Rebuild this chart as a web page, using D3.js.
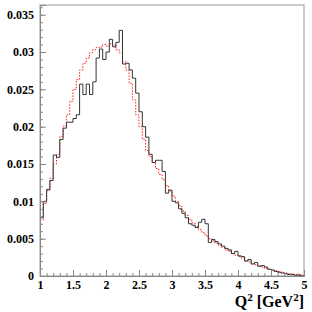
<!DOCTYPE html>
<html>
<head>
<meta charset="utf-8">
<script src="https://cdn.jsdelivr.net/npm/d3@7"></script>
<style>
body { margin: 0; background: #fff; }
svg text { font-family: "Liberation Serif", "Times New Roman", serif; font-weight: bold; }
</style>
</head>
<body>
<div id="chart"></div>
<script>
// histogram range and binning (80 bins of 0.05)
var xMin = 1, xMax = 5, nBins = 80;

// black histogram (data)
var blackValues = [
  0.0078, 0.0100, 0.0116, 0.0128, 0.0162, 0.0159, 0.0183, 0.0198, 0.0206, 0.0206,
  0.0211, 0.0216, 0.0257, 0.0243, 0.0257, 0.0243, 0.0260, 0.0292, 0.0304, 0.0290,
  0.0300, 0.0317, 0.0307, 0.0313, 0.0329, 0.0284, 0.0285, 0.0276, 0.0265, 0.0245,
  0.0220, 0.0200, 0.0186, 0.0163, 0.0152, 0.0155, 0.0155, 0.0140, 0.0111, 0.0115,
  0.0100, 0.0098, 0.0090, 0.0084, 0.0078, 0.0070, 0.0068, 0.0065, 0.0072, 0.0076,
  0.0070, 0.0045, 0.0049, 0.0046, 0.0043, 0.0040, 0.0037, 0.0035, 0.0030, 0.0033,
  0.0027, 0.0026, 0.0020, 0.0022, 0.0016, 0.0018, 0.0013, 0.0014, 0.0012, 0.0009,
  0.0008, 0.0006, 0.0005, 0.0004, 0.0003, 0.0002, 0.0002, 0.0001, 0.0001, 0.0000
];

// red dotted histogram (model)
var redValues = [
  0.0075, 0.0097, 0.0114, 0.0131, 0.0150, 0.0163, 0.0187, 0.0201, 0.0216, 0.0234,
  0.0250, 0.0263, 0.0276, 0.0285, 0.0292, 0.0299, 0.0303, 0.0306, 0.0307, 0.0310,
  0.0308, 0.0311, 0.0309, 0.0303, 0.0299, 0.0287, 0.0276, 0.0258, 0.0236, 0.0216,
  0.0200, 0.0183, 0.0168, 0.0160, 0.0152, 0.0144, 0.0136, 0.0129, 0.0121, 0.0114,
  0.0107, 0.0100, 0.0094, 0.0087, 0.0081, 0.0076, 0.0071, 0.0066, 0.0062, 0.0058,
  0.0054, 0.0050, 0.0047, 0.0044, 0.0041, 0.0038, 0.0035, 0.0033, 0.0030, 0.0028,
  0.0026, 0.0024, 0.0021, 0.0019, 0.0017, 0.0015, 0.0013, 0.0012, 0.0010, 0.0009,
  0.0008, 0.0007, 0.0006, 0.0005, 0.0004, 0.0003, 0.0003, 0.0002, 0.0002, 0.0001
];

var xTicks = [1, 1.5, 2, 2.5, 3, 3.5, 4, 4.5, 5];
var xTickLabels = ["1", "1.5", "2", "2.5", "3", "3.5", "4", "4.5", "5"];
var yTicks = [0, 0.005, 0.01, 0.015, 0.02, 0.025, 0.03, 0.035];
var yTickLabels = ["0", "0.005", "0.01", "0.015", "0.02", "0.025", "0.03", "0.035"];
var yMax = 0.0363;

var margin = { top: 5, right: 8, bottom: 36, left: 40 },
    width = 312 - margin.left - margin.right,
    height = 312 - margin.top - margin.bottom;

var svg = d3.select("#chart").append("svg")
    .attr("width", 312)
    .attr("height", 312)
    .append("g")
    .attr("transform", "translate(" + margin.left + "," + margin.top + ")");

var x = d3.scaleLinear().domain([xMin, xMax]).range([0, width]);
var y = d3.scaleLinear().domain([0, yMax]).range([height, 0]);

var binWidth = (xMax - xMin) / nBins;

// turn bin contents into step points
function toSteps(values) {
    var pts = values.map(function (v, i) { return [xMin + i * binWidth, v]; });
    pts.push([xMax, values[values.length - 1]]);
    return pts;
}

var line = d3.line()
    .x(function (d) { return x(d[0]); })
    .y(function (d) { return y(d[1]); })
    .curve(d3.curveStepAfter);

// frame (top / right)
svg.append("rect")
    .attr("x", 0).attr("y", 0)
    .attr("width", width).attr("height", height)
    .attr("fill", "none")
    .attr("stroke", "#999")
    .attr("stroke-width", 1);

svg.append("path")
    .datum(toSteps(redValues))
    .attr("fill", "none")
    .attr("stroke", "#ff2020")
    .attr("stroke-width", 1)
    .attr("stroke-dasharray", "1.5,1.5")
    .attr("d", line);

svg.append("path")
    .datum(toSteps(blackValues))
    .attr("fill", "none")
    .attr("stroke", "#333")
    .attr("stroke-width", 1)
    .attr("d", line);

// x axis, ticks pointing inward
var xAxis = d3.axisTop(x)
    .tickValues(d3.range(0, 41).map(function (i) { return xMin + i * 0.1; }))
    .tickSize(3)
    .tickFormat("");
var gx = svg.append("g")
    .attr("transform", "translate(0," + height + ")")
    .call(xAxis);
svg.append("g")
    .attr("transform", "translate(0," + height + ")")
    .call(d3.axisTop(x).tickValues(xTicks).tickSize(6).tickFormat(""));
svg.append("g")
    .attr("transform", "translate(0," + height + ")")
    .call(d3.axisBottom(x).tickValues(xTicks).tickSize(0).tickPadding(4)
        .tickFormat(function (d, i) { return xTickLabels[i]; }));

// y axis, ticks pointing inward
svg.append("g")
    .call(d3.axisRight(y)
        .tickValues(d3.range(0, 37).map(function (i) { return i * 0.001; }))
        .tickSize(3).tickFormat(""));
svg.append("g")
    .call(d3.axisRight(y).tickValues(yTicks).tickSize(6).tickFormat(""));
svg.append("g")
    .call(d3.axisLeft(y).tickValues(yTicks).tickSize(0).tickPadding(6)
        .tickFormat(function (d, i) { return yTickLabels[i]; }));

svg.selectAll(".domain").attr("stroke", "#888");
svg.selectAll(".tick line").attr("stroke", "#888");
svg.selectAll(".tick text")
    .attr("fill", "#000")
    .style("font-size", "12px")
    .style("font-family", "'Liberation Serif', serif")
    .style("font-weight", "bold");

// axis title
var title = svg.append("text")
    .attr("x", width)
    .attr("y", height + 31)
    .attr("text-anchor", "end")
    .style("font-size", "16px")
    .attr("fill", "#000");
title.append("tspan").text("Q");
title.append("tspan").attr("dy", -6).style("font-size", "11px").text("2");
title.append("tspan").attr("dy", 6).text(" [GeV");
title.append("tspan").attr("dy", -6).style("font-size", "11px").text("2");
title.append("tspan").attr("dy", 6).text("]");
</script>
</body>
</html>
